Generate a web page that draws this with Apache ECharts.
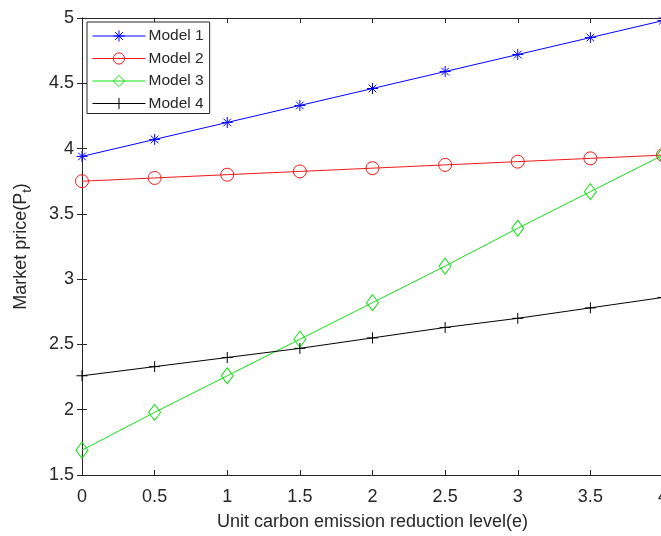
<!DOCTYPE html>
<html>
<head>
<meta charset="utf-8">
<script src="https://cdn.jsdelivr.net/npm/echarts@6/dist/echarts.min.js"></script>
<style>
  html, body { margin: 0; padding: 0; background: #fff; }
  #chart { width: 661px; height: 536px; }
</style>
</head>
<body>
<div id="chart"></div>
<script>
// x values (unit carbon emission reduction level)
const levels = [0, 0.5, 1, 1.5, 2, 2.5, 3, 3.5, 4];

// market price per model
const model1 = [3.94, 4.07, 4.20, 4.33, 4.46, 4.59, 4.72, 4.85, 4.98];
const model2 = [3.75, 3.775, 3.80, 3.825, 3.85, 3.875, 3.90, 3.925, 3.95];
const model3 = [1.69, 1.98, 2.26, 2.54, 2.82, 3.10, 3.39, 3.67, 3.95];
const model4 = [2.26, 2.33, 2.40, 2.47, 2.55, 2.63, 2.70, 2.78, 2.86];

const seriesNames = ['Model 1', 'Model 2', 'Model 3', 'Model 4'];

// MATLAB style markers (unfilled, thin)
const STAR = 'path://M5,0L5,10M0,5L10,5M1.5,1.5L8.5,8.5M8.5,1.5L1.5,8.5';
const PLUS = 'path://M5,0L5,10M0,5L10,5';

const FONT = 'Liberation Sans';
const TXT = '#262626';

function pairs(ys) {
    return levels.map((x, i) => [x, ys[i]]);
}

function makeSeries(name, ys, color, symbol, size) {
    return {
        name: name,
        type: 'line',
        data: pairs(ys),
        symbol: symbol,
        symbolSize: size,
        showSymbol: true,
        lineStyle: { color: color, width: 1 },
        itemStyle: { color: 'rgba(0,0,0,0)', borderColor: color, borderWidth: 1 },
        emphasis: { disabled: true },
        animation: false
    };
}

const chart = echarts.init(document.getElementById('chart'));

chart.setOption({
    animation: false,
    grid: { left: 82, top: 18, width: 581, height: 457, outerBoundsMode: 'none', containLabel: false },
    legend: {
        data: seriesNames,
        orient: 'vertical',
        left: 87,
        top: 22,
        itemWidth: 53,
        itemHeight: 14,
        itemGap: 6.5,
        padding: [6, 6, 2, 5],
        borderColor: TXT,
        borderWidth: 1,
        backgroundColor: '#fff',
        lineStyle: { width: 1 },
        itemStyle: { borderWidth: 1 },
        textStyle: { fontFamily: FONT, fontSize: 15.5, color: TXT, padding: [0, 0, 0, -2] }
    },
    xAxis: [{
        type: 'value',
        min: 0, max: 4, interval: 0.5,
        name: 'Unit carbon emission reduction level(e)',
        nameLocation: 'middle',
        nameGap: 38,
        nameTextStyle: { fontFamily: FONT, fontSize: 18, color: TXT },
        axisLine: { lineStyle: { color: TXT, width: 1 } },
        axisTick: { inside: true, length: 5, lineStyle: { color: TXT } },
        axisLabel: { fontFamily: FONT, fontSize: 18, color: TXT, margin: 13 },
        splitLine: { show: false }
    }, {
        type: 'value',
        position: 'top',
        min: 0, max: 4, interval: 0.5,
        axisLine: { show: true, lineStyle: { color: TXT, width: 1 } },
        axisTick: { show: true, inside: true, length: 5, lineStyle: { color: TXT } },
        axisLabel: { show: false },
        splitLine: { show: false }
    }],
    yAxis: [{
        type: 'value',
        min: 1.5, max: 5, interval: 0.5,
        name: 'Market price(P{sub|t})',
        nameLocation: 'middle',
        nameGap: 48,
        nameTextStyle: {
            fontFamily: FONT, fontSize: 18, color: TXT,
            rich: { sub: { fontFamily: FONT, fontSize: 13, color: TXT, padding: [12, 0, 0, 0] } }
        },
        axisLine: { show: true, lineStyle: { color: TXT, width: 1 } },
        axisTick: { show: true, inside: true, length: 5, lineStyle: { color: TXT } },
        axisLabel: { fontFamily: FONT, fontSize: 18, color: TXT, margin: 8 },
        splitLine: { show: false }
    }, {
        type: 'value',
        position: 'right',
        min: 1.5, max: 5, interval: 0.5,
        axisLine: { show: true, lineStyle: { color: TXT, width: 1 } },
        axisTick: { show: true, inside: true, length: 5, lineStyle: { color: TXT } },
        axisLabel: { show: false },
        splitLine: { show: false }
    }],
    series: [
        makeSeries('Model 1', model1, '#0000ff', STAR, 11),
        makeSeries('Model 2', model2, '#f01818', 'circle', 13),
        makeSeries('Model 3', model3, '#11e011', 'diamond', [12, 16]),
        makeSeries('Model 4', model4, '#000000', PLUS, 11)
    ]
});
</script>
</body>
</html>
